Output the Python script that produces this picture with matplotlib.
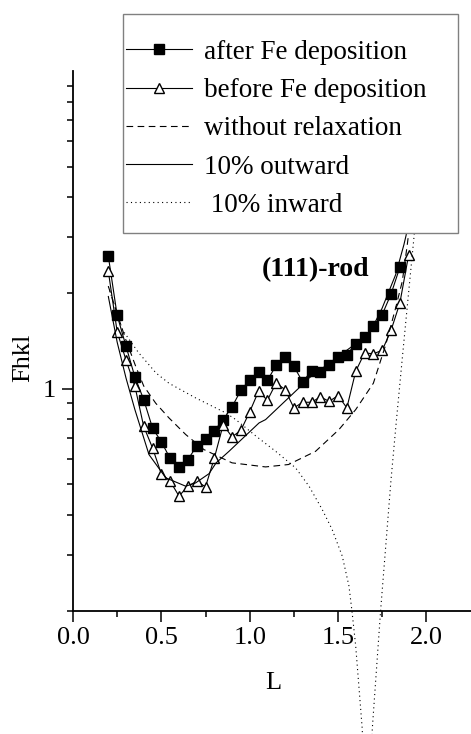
import numpy as np
import matplotlib
matplotlib.use('Agg')
import matplotlib.pyplot as plt
from matplotlib.patches import Rectangle
from matplotlib.ticker import FixedLocator, NullFormatter, FixedFormatter

plt.rcParams['font.family'] = ['Liberation Serif', 'DejaVu Serif']
plt.rcParams['mathtext.fontset'] = 'stix'

L_after = [0.20, 0.25, 0.30, 0.35, 0.40, 0.45, 0.50, 0.55, 0.60, 0.65, 0.70, 0.75,
           0.80, 0.85, 0.90, 0.95, 1.00, 1.05, 1.10, 1.15, 1.20, 1.25, 1.30, 1.35,
           1.40, 1.45, 1.50, 1.55, 1.60, 1.65, 1.70, 1.75, 1.80, 1.85]
F_after = [2.61, 1.70, 1.36, 1.09, 0.924, 0.752, 0.680, 0.603, 0.567, 0.598, 0.659, 0.695,
           0.738, 0.799, 0.876, 0.988, 1.065, 1.125, 1.062, 1.184, 1.254, 1.175, 1.05, 1.139,
           1.128, 1.184, 1.254, 1.279, 1.385, 1.454, 1.57, 1.71, 1.985, 2.41]

L_before = [0.20, 0.25, 0.30, 0.35, 0.40, 0.45, 0.50, 0.55, 0.60, 0.65, 0.70, 0.75,
            0.80, 0.85, 0.90, 0.95, 1.00, 1.05, 1.10, 1.15, 1.20, 1.25, 1.30, 1.35,
            1.40, 1.45, 1.50, 1.55, 1.60, 1.65, 1.70, 1.75, 1.80, 1.85, 1.90]
F_before = [2.34, 1.51, 1.23, 1.02, 0.761, 0.651, 0.539, 0.511, 0.459, 0.493, 0.511, 0.491,
            0.605, 0.770, 0.705, 0.739, 0.845, 0.981, 0.919, 1.042, 0.993, 0.870, 0.906, 0.906,
            0.942, 0.912, 0.951, 0.870, 1.133, 1.295, 1.288, 1.32, 1.525, 1.86, 2.64]

# model curves (read at sample points)
L_norelax = [0.20, 0.25, 0.30, 0.355, 0.40, 0.468, 0.543, 0.638, 0.741, 0.90, 1.09, 1.22,
             1.373, 1.505, 1.60, 1.70, 1.77, 1.826, 1.864, 1.892, 1.92]
F_norelax = [2.10, 1.72, 1.42, 1.175, 1.02, 0.90, 0.809, 0.717, 0.643, 0.584, 0.567, 0.577,
             0.635, 0.743, 0.859, 1.04, 1.375, 1.794, 2.18, 2.84, 3.8]

L_out = [0.20, 0.25, 0.30, 0.35, 0.43, 0.525, 0.638, 0.694, 0.77, 0.81, 0.883, 1.053,
         1.09, 1.279, 1.298, 1.58, 1.675, 1.75, 1.826, 1.873, 1.886, 1.91]
F_out = [1.95, 1.40, 1.08, 0.86, 0.62, 0.524, 0.493, 0.505, 0.54, 0.584, 0.635, 0.78,
         0.799, 1.005, 1.042, 1.359, 1.479, 1.794, 2.283, 2.84, 3.05, 4.0]

L_in = [0.20, 0.25, 0.28, 0.37, 0.47, 0.543, 0.694, 0.864, 0.92, 1.034, 1.147, 1.26,
        1.336, 1.411, 1.467, 1.524, 1.562, 1.58, 1.60, 1.637, 1.665, 1.694, 1.741, 1.77,
        1.80, 1.83, 1.864, 1.90, 1.93, 1.96]
F_in = [2.10, 1.72, 1.53, 1.30, 1.12, 1.04, 0.935, 0.839, 0.80, 0.71, 0.635, 0.563,
        0.493, 0.416, 0.36, 0.297, 0.239, 0.197, 0.155, 0.085, 0.03, 0.085, 0.2, 0.319,
        0.517, 0.789, 1.25, 2.02, 3.0, 5.0]

fig = plt.figure(figsize=(4.71, 7.34), dpi=100)
ax = fig.add_axes([0.155, 0.168, 0.844, 0.7353])

ax.plot(L_after, F_after, color='black', lw=0.8, marker='s', ms=6.5,
        mfc='black', mec='black', label='after Fe deposition')
ax.plot(L_before, F_before, color='black', lw=0.8, marker='^', ms=7.5,
        mfc='white', mec='black', mew=1.0, label='before Fe deposition')
ax.plot(L_norelax, F_norelax, color='black', lw=0.8, dashes=(6, 4),
        label='without relaxation')
ax.plot(L_out, F_out, color='black', lw=0.8, label='10% outward')
ax.plot(L_in, F_in, color='black', lw=0.8, dashes=(1, 3), clip_on=False,
        label=' 10% inward')

ax.set_yscale('log')
ax.set_xlim(0, 2.25)
ax.set_ylim(0.2, 10)

ax.xaxis.set_major_locator(FixedLocator([0, 0.5, 1.0, 1.5, 2.0]))
ax.xaxis.set_major_formatter(FixedFormatter(['0.0', '0.5', '1.0', '1.5', '2.0']))
ax.xaxis.set_minor_locator(FixedLocator([0.25, 0.75, 1.25, 1.75]))
ax.yaxis.set_major_locator(FixedLocator([1]))
ax.yaxis.set_major_formatter(FixedFormatter(['1']))
ax.yaxis.set_minor_locator(FixedLocator([0.2, 0.3, 0.4, 0.5, 0.6, 0.7, 0.8, 0.9,
                                         2, 3, 4, 5, 6, 7, 8, 9]))
ax.yaxis.set_minor_formatter(NullFormatter())

ax.tick_params(which='major', direction='out', length=8, width=1.1, labelsize=19, pad=4)
ax.tick_params(which='minor', direction='out', length=4.5, width=1.1)

for s in ['top', 'right']:
    ax.spines[s].set_visible(False)
for s in ['left', 'bottom']:
    ax.spines[s].set_linewidth(1.3)

ax.set_xlabel('L', fontsize=19, va='center')
ax.xaxis.set_label_coords(0.504, -0.134)
ax.set_ylabel('Fhkl', fontsize=19, va='center', ha='center')
ax.yaxis.set_label_coords(-0.126, 0.468)

ax.text(1.373, 2.37, '(111)-rod', fontsize=20, fontweight='bold',
        ha='center', va='center')

# legend box drawn on the figure so it covers the curves
fig.add_artist(Rectangle((122.7 / 471, 1 - 233.3 / 734), (458.3 - 122.7) / 471,
                         (233.3 - 14.3) / 734, transform=fig.transFigure,
                         facecolor='white', edgecolor='#808080', lw=1.0, zorder=4))
handles, labels = ax.get_legend_handles_labels()
leg = fig.legend(handles, labels, loc='center left', bbox_to_anchor=(126 / 471, 0.8244),
                 frameon=False, fontsize=19.5, handlelength=2.45, handletextpad=0.42,
                 labelspacing=0.49, borderpad=0, borderaxespad=0)
leg.set_zorder(5)

fig.savefig('out.png', dpi=100)
